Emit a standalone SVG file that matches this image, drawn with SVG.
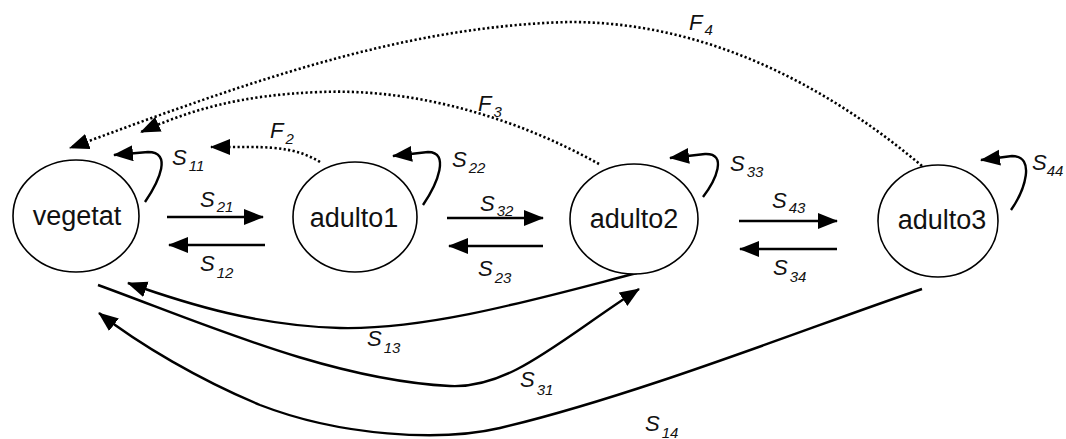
<svg xmlns="http://www.w3.org/2000/svg" width="1066" height="439" viewBox="0 0 1066 439">
  <style>
    .node { fill: #fff; stroke: #000; stroke-width: 1.6; }
    .nt { font-family: "Liberation Sans", Arial, sans-serif; font-size: 27px; fill: #111; text-anchor: middle; }
    .lab { font-family: "Liberation Sans", Arial, sans-serif; font-size: 22px; font-style: italic; fill: #111; }
    .sub { font-size: 15px; }
    .conn { fill: none; stroke: #000; stroke-width: 2.4; marker-end: url(#ah); }
    .dot { fill: none; stroke: #000; stroke-width: 2.6; stroke-dasharray: 2.2 2.4; marker-end: url(#ah); }
  </style>
  <defs>
    <marker id="ah" markerWidth="22" markerHeight="18" refX="19" refY="8" orient="auto" markerUnits="userSpaceOnUse">
      <path d="M0,0 L20,8 L0,16 z" fill="#000"/>
    </marker>
  </defs>
  <rect width="1066" height="439" fill="#fff"/>

  <g id="connectors">
    <!-- dotted fecundity arcs -->
    <path class="dot" d="M922,166 C820,80 700,22 570,22 C400,26 240,85 70,148"/>
    <path class="dot" d="M599,164 C520,120 420,88 320,92 C240,95 190,110 141,132"/>
    <path class="dot" d="M320,162 C300,150 280,147 250,147 L211,147"/>
    <!-- self loops -->
    <path class="conn" d="M145,202 C160,180 172,152 148,152 L114,155"/>
    <path class="conn" d="M423,205 C438,183 450,152 428,152 L393,156"/>
    <path class="conn" d="M703,197 C716,180 728,153 705,154 L670,158"/>
    <path class="conn" d="M1011,210 C1025,190 1036,156 1012,156 L981,160"/>
    <!-- horizontal transitions -->
    <path class="conn" d="M167,217 L263,217"/>
    <path class="conn" d="M265,245 L169,245"/>
    <path class="conn" d="M447,218 L543,218"/>
    <path class="conn" d="M543,246 L449,246"/>
    <path class="conn" d="M739,221 L837,221"/>
    <path class="conn" d="M837,249 L740,249"/>
    <!-- long bottom arcs -->
    <path class="conn" d="M637,273 C540,298 430,330 340,328 C260,326 190,305 128,283"/>
    <path class="conn" d="M98,285 C200,322 330,380 450,386 C510,389 560,340 639,289"/>
    <path class="conn" d="M922,289 C820,323 640,395 500,428 C440,442 340,436 260,405 C200,380 140,345 99,313"/>
  </g>

  <g id="vegetat">
    <ellipse class="node" cx="76" cy="216" rx="63" ry="56"/>
    <text class="nt" x="77" y="225">vegetat</text>
  </g>
  <g id="adulto1">
    <ellipse class="node" cx="355" cy="217" rx="62" ry="55"/>
    <text class="nt" x="354" y="227">adulto1</text>
  </g>
  <g id="adulto2">
    <ellipse class="node" cx="634" cy="219" rx="64" ry="55"/>
    <text class="nt" x="634" y="228">adulto2</text>
  </g>
  <g id="adulto3">
    <ellipse class="node" cx="938" cy="221" rx="60" ry="56"/>
    <text class="nt" x="942" y="229">adulto3</text>
  </g>

  <g id="labels">
    <text class="lab" x="689" y="30">F<tspan class="sub" dx="2" dy="5">4</tspan></text>
    <text class="lab" x="478" y="111">F<tspan class="sub" dx="2" dy="6">3</tspan></text>
    <text class="lab" x="270" y="138">F<tspan class="sub" dx="2" dy="6">2</tspan></text>
    <text class="lab" x="172" y="165">S<tspan class="sub" dx="2" dy="6">11</tspan></text>
    <text class="lab" x="200" y="207">S<tspan class="sub" dx="2" dy="5">21</tspan></text>
    <text class="lab" x="200" y="271">S<tspan class="sub" dx="2" dy="7">12</tspan></text>
    <text class="lab" x="452" y="167">S<tspan class="sub" dx="2" dy="6">22</tspan></text>
    <text class="lab" x="480" y="211">S<tspan class="sub" dx="2" dy="5">32</tspan></text>
    <text class="lab" x="478" y="276">S<tspan class="sub" dx="2" dy="7">23</tspan></text>
    <text class="lab" x="730" y="171">S<tspan class="sub" dx="2" dy="6">33</tspan></text>
    <text class="lab" x="772" y="208">S<tspan class="sub" dx="2" dy="5">43</tspan></text>
    <text class="lab" x="773" y="275">S<tspan class="sub" dx="2" dy="7">34</tspan></text>
    <text class="lab" x="1032" y="170">S<tspan class="sub" dx="0" dy="6">44</tspan></text>
    <text class="lab" x="367" y="346">S<tspan class="sub" dx="2" dy="7">13</tspan></text>
    <text class="lab" x="520" y="387">S<tspan class="sub" dx="2" dy="8">31</tspan></text>
    <text class="lab" x="645" y="431">S<tspan class="sub" dx="2" dy="7">14</tspan></text>
  </g>
</svg>
